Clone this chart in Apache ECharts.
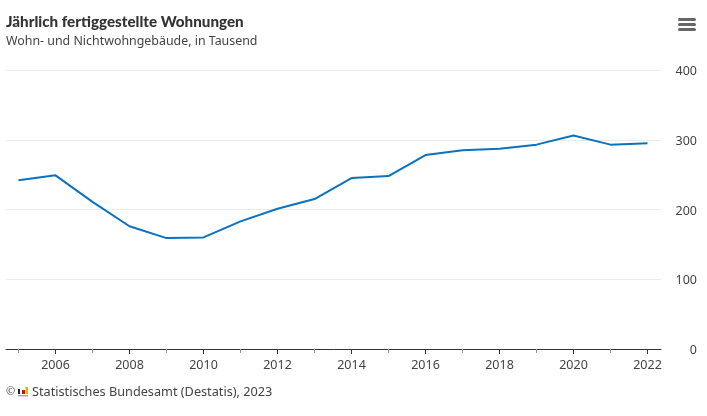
<!DOCTYPE html>
<html><head><meta charset="utf-8">
<style>html,body{margin:0;padding:0;background:#fff}#c{width:707px;height:416px}</style>
<script src="https://cdn.jsdelivr.net/npm/echarts@6/dist/echarts.min.js"></script>
</head><body><div id="c"></div>
<script>
const years=[2005,2006,2007,2008,2009,2010,2011,2012,2013,2014,2015,2016,2017,2018,2019,2020,2021,2022];
const values=[242,249,211,176,159,160,183,201,215,245,248,278,285,287,293,306,293,295];
const oddYears=[2005,2007,2009,2011,2013,2015,2017,2019,2021];
const evenYears=[2006,2008,2010,2012,2014,2016,2018,2020,2022];
const yTicks=[0,100,200,300,400];
const titleText='Jährlich fertiggestellte Wohnungen';
const subtitleText='Wohn- und Nichtwohngebäude, in Tausend';
const creditText='Statistisches Bundesamt (Destatis), 2023';
const FONT='"Noto Sans","Open Sans",sans-serif';
const xMin=2004.662,xMax=2022.365;
const chart=echarts.init(document.getElementById('c'),null,{renderer:'canvas'});
const rect=(x,y,w,h,fill,r)=>({type:'rect',shape:{x,y,width:w,height:h,r:r||0},style:{fill},silent:true});
chart.setOption({
 animation:false,
 backgroundColor:'#fff',
 title:{text:titleText,subtext:subtitleText,left:6,top:15,padding:0,itemGap:5,
  textStyle:{fontFamily:'Lato,"Noto Sans",sans-serif',fontSize:15.2,fontWeight:900,color:'#333'},
  subtextStyle:{fontFamily:FONT,fontSize:12.4,color:'#444'}},
 grid:{left:6,top:70,width:655,height:279},
 xAxis:[
  {type:'value',min:xMin,max:xMax,position:'bottom',
   axisLine:{show:true,onZero:false,lineStyle:{color:'#333',width:1}},
   axisTick:{show:true,length:5,customValues:evenYears,lineStyle:{color:'#333'}},
   axisLabel:{show:true,customValues:evenYears,margin:10,fontFamily:FONT,fontSize:12.5,color:'#444',formatter:v=>String(v)},
   splitLine:{show:false}},
  {type:'value',min:xMin,max:xMax,position:'bottom',
   axisLine:{show:false,onZero:false},
   axisTick:{show:true,length:4,customValues:oddYears,lineStyle:{color:'#999'}},
   axisLabel:{show:false},splitLine:{show:false}}
 ],
 yAxis:{type:'value',min:0,max:400,interval:100,position:'right',
  axisLine:{show:false},axisTick:{show:false},
  axisLabel:{margin:36,align:'right',verticalAlign:'top',padding:[-5,0,0,0],fontFamily:FONT,fontSize:12.5,color:'#444',customValues:yTicks},
  splitLine:{show:true,lineStyle:{color:'#ebebeb',width:1}}},
 series:[{type:'line',data:years.map((y,i)=>[y,values[i]]),symbol:'none',smooth:false,
  lineStyle:{color:'#0a72bf',width:2},z:5}],
 graphic:[
  rect(678,18,18,3,'#666',1.5),rect(678,23,18,3,'#666',1.5),rect(678,28,18,3,'#666',1.5),
  {type:'text',x:6,y:386.5,silent:true,style:{text:'©',fontFamily:FONT,fontSize:11,fill:'#555'}},
  rect(18,389,2,5,'#222'),rect(22,390,3,4,'#d01010'),rect(25.5,387,2.5,7,'#e8b000'),rect(18,395,10,1.5,'#aaa'),
  {type:'text',x:32,y:386,silent:true,style:{text:creditText,fontFamily:FONT,fontSize:12.7,fill:'#444'}}
 ]
});
</script></body></html>
